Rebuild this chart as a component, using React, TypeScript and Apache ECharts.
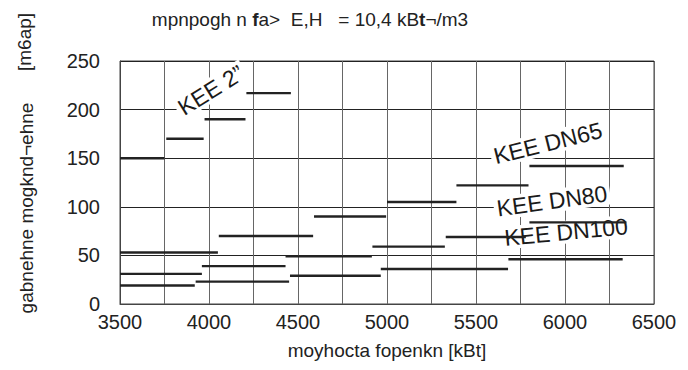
import React, { useEffect, useRef } from "react";
import * as echarts from "echarts";

// Segment data: start power, end power [kBt], resistance [m6ap]
const startPower = [3500, 3760, 3975, 4210, 3500, 3500, 3500, 3925, 3960, 4055, 4430, 4455, 4590, 4918, 4965, 5000, 5390, 5800, 5330, 5800, 5682];
const endPower = [3750, 3970, 4205, 4460, 4050, 3960, 3920, 4450, 4430, 4585, 4915, 4965, 4995, 5325, 5680, 5390, 5795, 6330, 5780, 6345, 6324];
const resistance = [150, 170, 190, 217, 53, 31, 19, 23, 39, 70, 49, 29, 90, 59, 36, 105, 122, 142, 69, 84, 46];

const xTicks = [3500, 4000, 4500, 5000, 5500, 6000, 6500];
const yTicks = [0, 50, 100, 150, 200, 250];

// Curve labels: text, anchor x, anchor y, rotation (deg)
const labelTexts = ["KEE 2\u201D", "KEE DN65", "KEE DN80", "KEE DN100"];
const labelX = [4011, 5904, 5927, 6006];
const labelY = [220, 165.5, 106, 74];
const labelRot = [32, 14, 8, 5.5];

const titleParts = ["mpnpogh n ", "f", "a>  E,H   = 10,4 kB", "t", "\u00AC/m3"];
const xName = "moyhocta fopenkn [kBt]";
const yName = "gabnehne mogknd\u00ACehne";
const yUnit = "[m6ap]";

const FONT = "'Liberation Sans', Arial, sans-serif";

export default function App() {
  const ref = useRef<HTMLDivElement>(null);
  useEffect(() => {
    if (!ref.current) return;
    const chart = echarts.init(ref.current, undefined, { renderer: "svg" });
    const series = startPower.map((s, i) => ({
      type: "line",
      data: [
        [s, resistance[i]],
        [endPower[i], resistance[i]],
      ],
      symbol: "none",
      lineStyle: { color: "#222", width: 2.4 },
      z: 5,
      silent: true,
    }));
    chart.setOption({
      animation: false,
      grid: {
        left: 120,
        right: 34,
        top: 61,
        bottom: 66,
        show: true,
        borderColor: "#444",
        borderWidth: 1,
      },
      xAxis: {
        type: "value",
        min: 3500,
        max: 6500,
        interval: 250,
        axisLine: { show: true, lineStyle: { color: "#444", width: 1 } },
        axisTick: { show: false },
        axisLabel: {
          margin: 8,
          fontSize: 20,
          fontFamily: FONT,
          color: "#222",
          formatter: (v: number) => (xTicks.includes(v) ? String(v) : ""),
        },
        splitLine: { show: true, lineStyle: { color: "#666", width: 1 } },
      },
      yAxis: {
        type: "value",
        min: 0,
        max: 250,
        interval: 50,
        axisLine: { show: true, lineStyle: { color: "#444", width: 1 } },
        axisTick: { show: false },
        axisLabel: {
          margin: 20,
          fontSize: 20,
          fontFamily: FONT,
          color: "#222",
          formatter: (v: number) => (yTicks.includes(v) ? String(v) : ""),
        },
        splitLine: { show: true, lineStyle: { color: "#222", width: 1 } },
      },
      series,
    });

    const labelEls = labelTexts.map((t, i) => {
      const p = chart.convertToPixel({ gridIndex: 0 }, [labelX[i], labelY[i]]) as number[];
      return {
        type: "text",
        x: p[0],
        y: p[1],
        rotation: (labelRot[i] * Math.PI) / 180,
        z: 3,
        style: {
          text: t,
          fontSize: 23,
          fontFamily: FONT,
          fill: "#1a1a1a",
          align: "center",
          verticalAlign: "middle",
          backgroundColor: "#fff",
          padding: [0, 3],
        },
      };
    });

    const titleRich =
      "{n|" + titleParts[0] + "}{b|" + titleParts[1] + "}{n|" + titleParts[2] + "}{b|" + titleParts[3] + "}{n|" + titleParts[4] + "}";

    chart.setOption({
      graphic: [
        ...labelEls,
        {
          type: "text",
          x: 310,
          y: 19,
          style: {
            text: titleRich,
            fontSize: 19,
            fontFamily: FONT,
            fill: "#222",
            align: "center",
            verticalAlign: "middle",
            rich: {
              n: { fontSize: 19, fontFamily: FONT, fill: "#222" },
              b: { fontSize: 19, fontFamily: FONT, fill: "#222", fontWeight: "bold" },
            },
          },
        },
        {
          type: "text",
          x: 387,
          y: 350,
          style: {
            text: xName,
            fontSize: 19,
            fontFamily: FONT,
            fill: "#222",
            align: "center",
            verticalAlign: "middle",
          },
        },
        {
          type: "text",
          x: 26,
          y: 208,
          rotation: Math.PI / 2,
          style: {
            text: yName,
            fontSize: 19,
            fontFamily: FONT,
            fill: "#222",
            align: "center",
            verticalAlign: "middle",
          },
        },
        {
          type: "text",
          x: 24,
          y: 42,
          rotation: Math.PI / 2,
          style: {
            text: yUnit,
            fontSize: 19,
            fontFamily: FONT,
            fill: "#222",
            align: "center",
            verticalAlign: "middle",
          },
        },
      ],
    });
    return () => chart.dispose();
  }, []);
  return <div ref={ref} style={{ width: 688, height: 370, margin: -8 }} />;
}
